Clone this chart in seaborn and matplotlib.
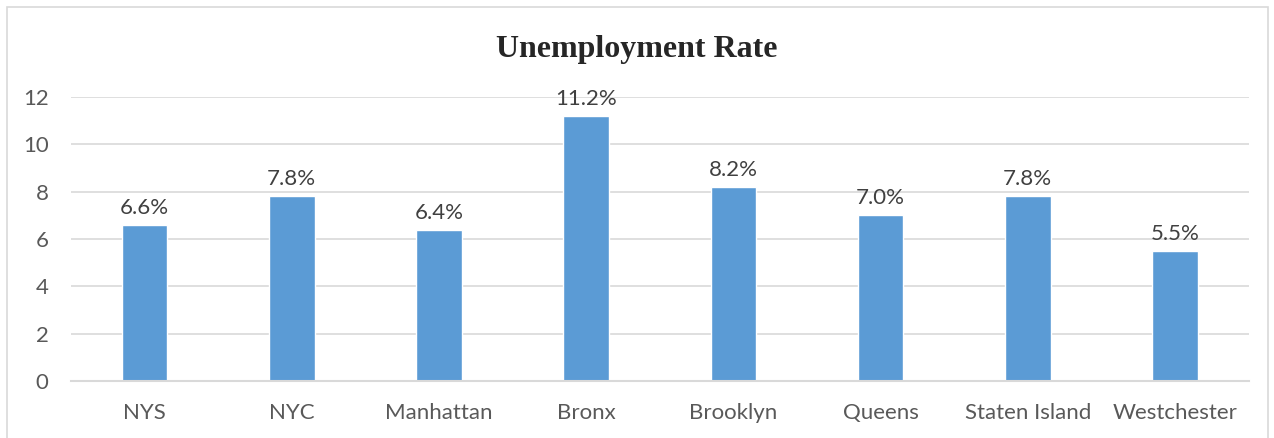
import matplotlib
matplotlib.use("Agg")
import matplotlib.pyplot as plt
import seaborn as sns
import pandas as pd
from matplotlib.patches import Rectangle

# --- data ---
areas = ["NYS", "NYC", "Manhattan", "Bronx", "Brooklyn", "Queens", "Staten Island", "Westchester"]
rates = [6.6, 7.8, 6.4, 11.2, 8.2, 7.0, 7.8, 5.5]
yticks = [0, 2, 4, 6, 8, 10, 12]

df = pd.DataFrame({"area": areas, "rate": rates})

sns.set_theme(style="white")
plt.rcParams["font.family"] = ["Lato", "DejaVu Sans"]

fig = plt.figure(figsize=(12.74, 4.38), dpi=100)
ax = fig.add_axes([0.0557, 0.130, 0.9243, 0.6485])

sns.barplot(data=df, x="area", y="rate", color="#5B9BD5", saturation=1,
            width=0.31, ax=ax)

ax.set_ylim(0, 12)
ax.set_yticks(yticks)
ax.yaxis.grid(True, color="#d9d9d9", linewidth=1.2)
ax.set_axisbelow(True)
for s in ["top", "right", "left"]:
    ax.spines[s].set_visible(False)
ax.spines["bottom"].set_color("#d9d9d9")
ax.spines["bottom"].set_linewidth(1.5)
ax.tick_params(axis="both", length=0, labelsize=16, colors="#595959")
ax.tick_params(axis="y", pad=16)
ax.tick_params(axis="x", pad=16)
ax.set_xlabel("")
ax.set_ylabel("")

for p, v in zip(ax.patches, rates):
    ax.annotate(f"{v:.1f}%", (p.get_x() + p.get_width() / 2, p.get_height()),
                xytext=(0, 5), textcoords="offset points", ha="center", va="bottom",
                fontsize=16, color="#404040")

fig.text(0.5, 0.888, "Unemployment Rate", ha="center", va="center",
         fontsize=23, fontweight="bold", family=["Liberation Serif", "DejaVu Serif"])

# outer chart border
fig.patches.append(Rectangle((7 / 1274, -0.01), 1261 / 1274, 1 - 7 / 438 + 0.01,
                             transform=fig.transFigure, fill=False,
                             edgecolor="#d9d9d9", linewidth=1.2))

fig.savefig("out.png", dpi=100)
